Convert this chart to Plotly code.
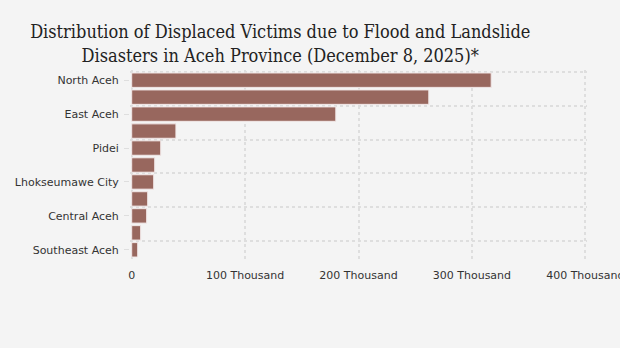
import plotly.graph_objects as go

# Regencies/cities ordered by number of displaced people (largest first)
regions = [
    "North Aceh", "Aceh Tamiang", "East Aceh", "Bireuen", "Pidei",
    "Pidie Jaya", "Lhokseumawe City", "Bener Meriah", "Central Aceh",
    "Gayo Lues", "Southeast Aceh",
]
displaced = [
    317000, 262000, 180000, 39000, 25600,
    20300, 19400, 14100, 13200, 7900, 5300,
]

x_tick_vals = [0, 100000, 200000, 300000, 400000]
x_tick_text = ["0", "100 Thousand", "200 Thousand", "300 Thousand", "400 Thousand"]

title_text = ("Distribution of Displaced Victims due to Flood and Landslide<br>"
              "Disasters in Aceh Province (December 8, 2025)*")

BAR_COLOR = "#98675e"
GRID_COLOR = "#dedede"
BG = "#f4f4f4"

n = len(regions)
# pad the ranges a touch so the edge grid lines are kept
y_range = [n - 0.5 + 0.1, -0.6]
x_range = [-1500, 401500]

fig = go.Figure()
fig.add_trace(
    go.Bar(
        x=displaced,
        y=regions,
        orientation="h",
        marker=dict(color=BAR_COLOR, line=dict(color="#f2e8e8", width=1)),
        hovertemplate="%{y}: %{x:,}<extra></extra>",
    )
)
# invisible companion trace that carries the boundary grid axis
fig.add_trace(
    go.Scatter(
        x=displaced,
        y=regions,
        yaxis="y2",
        mode="markers",
        marker=dict(opacity=0),
        hoverinfo="skip",
    )
)

fig.update_layout(
    width=620,
    height=348,
    paper_bgcolor=BG,
    plot_bgcolor=BG,
    margin=dict(l=130, r=33, t=70, b=88, autoexpand=False),
    bargap=0.15,
    showlegend=False,
    title=dict(
        text=title_text,
        x=0.452,
        xanchor="center",
        y=0.89,
        yanchor="top",
        font=dict(family="DejaVu Serif Condensed", size=18, color="#222222"),
    ),
    font=dict(family="DejaVu Sans", size=11, color="#333333"),
    xaxis=dict(
        range=x_range,
        tickvals=x_tick_vals,
        ticktext=x_tick_text,
        showgrid=True,
        gridcolor=GRID_COLOR,
        gridwidth=2,
        griddash="dot",
        zeroline=False,
        showline=False,
        ticklabelstandoff=7,
        ticklabeloverflow="allow",
        automargin=False,
    ),
    yaxis=dict(
        type="category",
        categoryorder="array",
        categoryarray=regions,
        range=y_range,
        tickmode="linear",
        tick0=0,
        dtick=2,
        ticks="outside",
        ticklen=5,
        tickwidth=1,
        tickcolor=GRID_COLOR,
        showgrid=False,
        showline=False,
        ticklabelstandoff=3,
        automargin=False,
    ),
    yaxis2=dict(
        type="category",
        categoryorder="array",
        categoryarray=regions,
        overlaying="y",
        side="left",
        range=y_range,
        tickmode="linear",
        tick0=0,
        dtick=2,
        tickson="boundaries",
        ticks="",
        showticklabels=False,
        showgrid=True,
        gridcolor=GRID_COLOR,
        gridwidth=2,
        griddash="dot",
        showline=False,
        automargin=False,
    ),
)

fig.write_html("out.html")
